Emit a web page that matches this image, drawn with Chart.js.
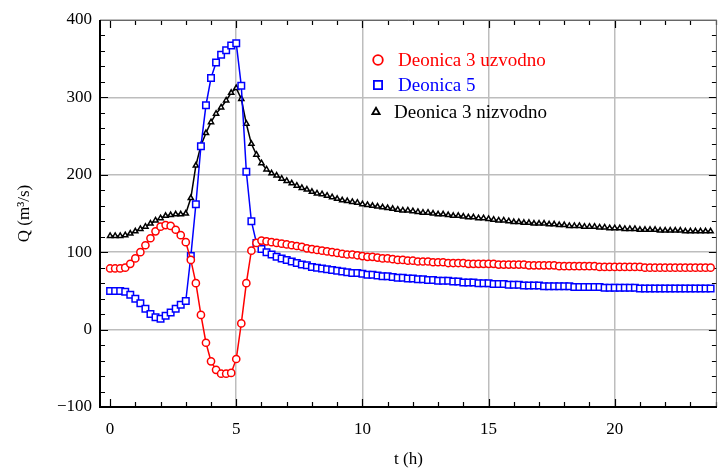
<!DOCTYPE html>
<html>
<head>
<meta charset="utf-8">
<script src="https://cdn.jsdelivr.net/npm/chart.js@4/dist/chart.umd.min.js"></script>
<style>
  html, body { margin: 0; padding: 0; background: #fff; }
</style>
</head>
<body>
<canvas id="qChart" width="723" height="471"></canvas>
<script>
const hours = [0, 0.2, 0.4, 0.6, 0.8, 1, 1.2, 1.4, 1.6, 1.8, 2, 2.2, 2.4, 2.6, 2.8, 3, 3.2, 3.4, 3.6, 3.8,
  4, 4.2, 4.4, 4.6, 4.8, 5, 5.2, 5.4, 5.6, 5.8, 6,
  6.2, 6.4, 6.6, 6.8, 7, 7.2, 7.4, 7.6, 7.8, 8,
  8.2, 8.4, 8.6, 8.8, 9, 9.2, 9.4, 9.6, 9.8, 10,
  10.2, 10.4, 10.6, 10.8, 11, 11.2, 11.4, 11.6, 11.8, 12,
  12.2, 12.4, 12.6, 12.8, 13, 13.2, 13.4, 13.6, 13.8, 14,
  14.2, 14.4, 14.6, 14.8, 15, 15.2, 15.4, 15.6, 15.8, 16,
  16.2, 16.4, 16.6, 16.8, 17, 17.2, 17.4, 17.6, 17.8, 18,
  18.2, 18.4, 18.6, 18.8, 19, 19.2, 19.4, 19.6, 19.8, 20,
  20.2, 20.4, 20.6, 20.8, 21, 21.2, 21.4, 21.6, 21.8, 22,
  22.2, 22.4, 22.6, 22.8, 23, 23.2, 23.4, 23.6, 23.8];

// Deonica 3 uzvodno
const upstream3 = [79, 79, 79, 80, 85, 92, 100, 109, 118, 127, 133, 135, 134, 129, 122, 113, 90, 60, 19, -17,
  -41, -52, -57, -57, -56, -38, 8, 60, 102, 112, 115,
  114, 113, 112, 111, 110, 109, 108, 107, 105, 104,
  103, 102, 101, 100, 99, 98, 97, 97, 96, 95,
  94, 94, 93, 92, 92, 91, 90, 90, 89, 89,
  88, 88, 88, 87, 87, 87, 86, 86, 86, 86,
  85, 85, 85, 85, 85, 85, 84, 84, 84, 84,
  84, 84, 83, 83, 83, 83, 83, 83, 82, 82,
  82, 82, 82, 82, 82, 82, 81, 81, 81, 81,
  81, 81, 81, 81, 81, 80, 80, 80, 80, 80,
  80, 80, 80, 80, 80, 80, 80, 80, 80];

// Deonica 5
const section5 = [50, 50, 50, 49, 45, 40, 34, 27, 20, 16, 14, 18, 22, 27, 32, 37, 95, 162, 237, 290,
  325, 345, 355, 361, 367, 370, 315, 204, 140, 112, 104,
  100, 97, 94, 92, 90, 88, 86, 84, 83, 81,
  80, 79, 78, 77, 76, 75, 74, 73, 73, 72,
  71, 71, 70, 69, 69, 68, 67, 67, 66, 66,
  65, 65, 64, 64, 63, 63, 63, 62, 62, 61,
  61, 61, 60, 60, 60, 59, 59, 59, 58, 58,
  58, 57, 57, 57, 57, 56, 56, 56, 56, 56,
  56, 55, 55, 55, 55, 55, 55, 54, 54, 54,
  54, 54, 54, 54, 53, 53, 53, 53, 53, 53,
  53, 53, 53, 53, 53, 53, 53, 53, 53];

// Deonica 3 nizvodno
const downstream3 = [121, 121, 121, 122, 124, 127, 130, 133, 137, 141, 144, 147, 148, 149, 149, 150, 170, 212, 238, 254,
  268, 279, 287, 296, 306, 312, 298, 266, 240, 226, 215,
  207, 202, 199, 195, 192, 189, 186, 183, 181, 178,
  176, 175, 173, 171, 169, 167, 166, 165, 164, 162,
  161, 160, 159, 158, 157, 156, 155, 154, 154, 153,
  152, 151, 151, 150, 149, 149, 148, 147, 147, 146,
  145, 145, 144, 144, 143, 142, 141, 141, 140, 139,
  139, 138, 138, 137, 137, 137, 136, 136, 135, 135,
  134, 134, 134, 133, 133, 133, 132, 132, 131, 131,
  131, 130, 130, 130, 129, 129, 129, 129, 128, 128,
  128, 128, 128, 127, 127, 127, 127, 127, 127];

const seriesNames = ['Deonica 3 uzvodno', 'Deonica 5', 'Deonica 3 nizvodno'];
const xTicks = [0, 5, 10, 15, 20];
const yTicks = [-100, 0, 100, 200, 300, 400];

const serif = '"Liberation Serif", "Times New Roman", serif';

function pts(vals) {
  return hours.map((t, i) => ({ x: t, y: vals[i] }));
}

// inward minor/major ticks and the box around the plot
const frameTicks = {
  id: 'frameTicks',
  beforeDatasetsDraw(chart) {
    const { ctx, chartArea: a, scales: { x, y } } = chart;
    ctx.save();
    ctx.strokeStyle = '#000';
    ctx.lineWidth = 1.2;
    ctx.beginPath();
    for (let v = Math.ceil(x.min); v <= x.max; v++) {
      const px = Math.round(x.getPixelForValue(v)) + 0.5;
      const len = v % 5 === 0 ? 8 : 5;
      ctx.moveTo(px, a.bottom); ctx.lineTo(px, a.bottom - len);
      ctx.moveTo(px, a.top); ctx.lineTo(px, a.top + len);
    }
    for (let v = y.min; v <= y.max; v += 20) {
      const py = Math.round(y.getPixelForValue(v)) + 0.5;
      const len = v % 100 === 0 ? 8 : 5;
      ctx.moveTo(a.left, py); ctx.lineTo(a.left + len, py);
      ctx.moveTo(a.right, py); ctx.lineTo(a.right - len, py);
    }
    ctx.stroke();
    ctx.strokeStyle = '#666';
    ctx.lineWidth = 1;
    ctx.beginPath();
    ctx.moveTo(a.left, a.top + 0.5); ctx.lineTo(a.right, a.top + 0.5);
    ctx.moveTo(a.right - 0.5, a.top); ctx.lineTo(a.right - 0.5, a.bottom);
    ctx.stroke();
    ctx.strokeStyle = '#000';
    ctx.lineWidth = 2;
    ctx.beginPath();
    ctx.moveTo(a.left, a.top); ctx.lineTo(a.left, a.bottom);
    ctx.lineTo(a.right, a.bottom);
    ctx.stroke();
    ctx.restore();
  }
};

// legend sitting inside the plot
const insetLegend = {
  id: 'insetLegend',
  afterDatasetsDraw(chart) {
    const ctx = chart.ctx;
    const rows = [[378, 60, 398], [378, 85, 398], [376, 112, 394]];
    chart.data.datasets.forEach((ds, i) => {
      const [mx, my, tx] = rows[i];
      ctx.save();
      ctx.fillStyle = '#fff';
      ctx.strokeStyle = ds.borderColor;
      ctx.lineWidth = 1.8;
      Chart.helpers.drawPoint(ctx, { pointStyle: ds.pointStyle, radius: ds.pointRadius + 1.2, borderWidth: 1.8, rotation: 0 }, mx, my);
      ctx.fillStyle = ds.borderColor;
      ctx.font = '19px ' + serif;
      ctx.textBaseline = 'middle';
      ctx.fillText(ds.label, tx, my + 1);
      ctx.restore();
    });
  }
};

const ctx = document.getElementById('qChart').getContext('2d');
const qChart = new Chart(ctx, {
  type: 'scatter',
  data: {
    datasets: [
      { label: seriesNames[0], data: pts(upstream3), showLine: true, borderColor: '#ff0000', backgroundColor: '#fff',
        borderWidth: 1.5, pointStyle: 'circle', pointRadius: 3.6, pointBorderWidth: 1.5, pointBackgroundColor: '#fff' },
      { label: seriesNames[1], data: pts(section5), showLine: true, borderColor: '#0000ff', backgroundColor: '#fff',
        borderWidth: 1.5, pointStyle: 'rect', pointRadius: 4.6, pointBorderWidth: 1.5, pointBackgroundColor: '#fff' },
      { label: seriesNames[2], data: pts(downstream3), showLine: true, borderColor: '#000', backgroundColor: '#fff',
        borderWidth: 1.5, pointStyle: 'triangle', pointRadius: 3, pointBorderWidth: 1.5, pointBackgroundColor: '#fff' }
    ]
  },
  options: {
    responsive: false,
    animation: false,
    events: [],
    layout: { padding: { left: 0, top: 20, right: 2, bottom: 0 } },
    plugins: { legend: { display: false }, tooltip: { enabled: false } },
    scales: {
      x: {
        type: 'linear', min: -0.4, max: 24.05,
        afterBuildTicks: s => { s.ticks = xTicks.map(v => ({ value: v })); },
        afterFit: s => { s.height = 64; },
        grid: { color: c => (c.tick && c.tick.value === 0) ? 'rgba(0,0,0,0)' : '#bdbdbd', lineWidth: 1.5, drawTicks: false },
        border: { display: false },
        ticks: { color: '#000', font: { family: serif, size: 17 }, padding: 12, maxRotation: 0 },
        title: { display: true, text: 't (h)', color: '#000', font: { family: serif, size: 17 }, padding: { top: 0, bottom: 1 } }
      },
      y: {
        min: -100, max: 400,
        afterBuildTicks: s => { s.ticks = yTicks.map(v => ({ value: v })); },
        afterFit: s => { s.width = 100; },
        grid: { color: '#bdbdbd', lineWidth: 1.5, drawTicks: false },
        border: { display: false },
        ticks: { color: '#000', font: { family: serif, size: 17 }, padding: 8,
          callback: v => String(v).replace('-', '\u2212') },
        title: { display: true, text: 'Q (m³/s)', color: '#000', font: { family: serif, size: 17 }, padding: { top: 14, bottom: 0 } }
      }
    }
  },
  plugins: [frameTicks, insetLegend]
});
window.qChart = qChart;
</script>
</body>
</html>
